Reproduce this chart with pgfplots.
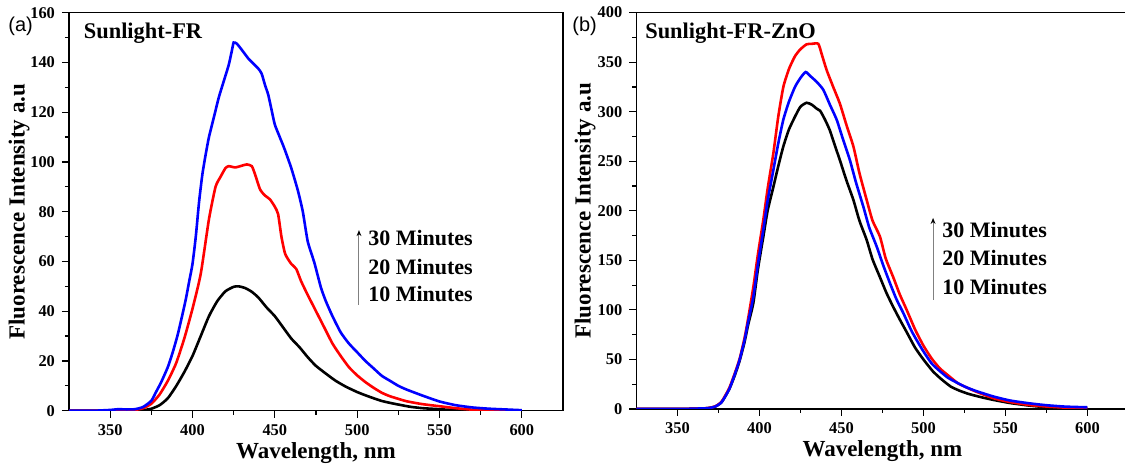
\documentclass[border=0pt]{standalone}
\usepackage{pgfplots}
\pgfplotsset{compat=1.18}
\usepackage{fontspec}
\setmainfont{Liberation Serif}
\newfontfamily\arialfont{Liberation Sans}
\newfontfamily\tickfont[BoldFont=*]{Liberation Serif Bold}
\usetikzlibrary{arrows.meta}

\pgfplotsset{
 myax/.style={
  scale only axis,
  anchor=south west,
  axis line style={line width=0.7pt},
  every tick/.style={black, line width=0.6pt},
  tick align=outside,
  tick pos=left,
  major tick length=3.5pt,
  minor tick length=2pt,
  minor tick num=1,
  xmin=325, xmax=625,
  xtick={350,400,...,600},
  /pgf/number format/assume math mode=true,
  xticklabel={\tickfont\fontsize{8.2}{9}\selectfont\pgfmathprintnumber{\tick}},
  yticklabel={\tickfont\fontsize{8.2}{9}\selectfont\pgfmathprintnumber{\tick}},
  xlabel={Wavelength, nm},
  ylabel={Fluorescence Intensity a.u},
  label style={font=\bfseries\fontsize{11.5}{13}\selectfont},
  xlabel style={at={(axis description cs:0.5,0)}, anchor=center, yshift=-21pt},
  every axis plot/.append style={line width=1.3pt, smooth, tension=0.35},
 },
}
\tikzset{
 ann/.style={anchor=west, inner sep=0pt, font=\bfseries\fontsize{11}{12}\selectfont},
 tit/.style={anchor=west, inner sep=0pt, font=\bfseries\fontsize{11.2}{12}\selectfont},
}

\begin{document}
\begin{tikzpicture}
\useasboundingbox (0,0) rectangle (562.5pt,235pt);

% ---------------- panel (a) ----------------
\begin{axis}[myax, at={(34.5pt,29.65pt)}, width=247pt, height=199pt,
  ymin=0, ymax=160, ytick={0,20,...,160},
  ylabel style={at={(axis description cs:-0.101,0.5)}, anchor=center}]
\addplot[black] coordinates {
(325,0) (350,0) (365,0) (370,0.2) (375,0.8) (380,2.2) (385,5) (390,9.8) (395,15.5)
(400,22) (405,30) (410,38) (415,44) (420,48) (425,49.8) (428,50) (432,49.3) (436,47.8)
(440,45.5) (445,41.5) (450,38) (455,33.5) (460,29) (465,25.5) (470,21.5) (475,18)
(482,14.4) (487,12) (493,9.7) (500,7.5) (505,6.2) (510,5) (515,3.9) (521,3) (532,1.6)
(540,1) (550,0.6) (560,0.2) (575,0) (600,0)};
\addplot[red] coordinates {
(325,0) (360,0) (365,0.3) (370,1) (375,2.8) (380,6.5) (385,12) (390,19) (395,29)
(400,41) (405,55) (410,77) (414,90) (417,94) (420,97.5) (422,98.3) (426,97.8)
(430,98.5) (433,99) (436,98.3) (438,95) (441,89) (444,86.5) (447,85) (450,82)
(452,79) (454,70) (456.3,63) (460,59) (463,57) (466,52) (470,46.5) (475,40)
(480,33.5) (485,27) (490,22) (495,17.5) (500,14.2) (505,11.5) (510,9.2) (515,7.2)
(520,5.8) (530,3.8) (540,2.6) (550,1.8) (560,1) (570,0.4) (580,0.1) (600,0)};
\addplot[blue] coordinates {
(325,0) (340,0) (350,0.3) (355,0.6) (360,0.5) (365,0.6) (370,1.5) (375,4) (378,7.7)
(381,11.5) (385,17.5) (388,23.5) (391,30.5) (394,39) (396,45) (398,52) (400,59)
(402,70) (404,84) (406,95) (408,103) (410,110) (413,118) (416,126) (419,132.5)
(422,139) (424,145) (425,148) (427,147.5) (430,145) (434,141.5) (437,139.5)
(440,137.5) (442,135.5) (444,131) (446,127) (448,121) (450,115) (453,110) (456,105)
(460,97.5) (464,88.5) (467,80) (470,68) (474,59.5) (478,49.5) (481,44) (485,38)
(490,31.5) (495,27) (500,23.5) (505,20) (510,17) (515,14) (520,12) (525,10)
(530,8.5) (540,6) (550,3.7) (560,2.2) (570,1.3) (580,0.8) (590,0.5) (600,0.2)};
\node[tit] at (axis cs:333.8,151.8) {Sunlight-FR};
\draw[gray, line width=0.5pt, -{Stealth[black, length=3pt, width=2.4pt]}]
  (axis cs:501.1,42.5) -- (axis cs:501.1,72.6);
\node[ann] at (axis cs:506.5,69.4) {30 Minutes};
\node[ann] at (axis cs:506.5,57.8) {20 Minutes};
\node[ann] at (axis cs:506.5,46.9) {10 Minutes};
\end{axis}

% ---------------- panel (b) ----------------
\begin{axis}[myax, at={(318.2pt,30.5pt)}, width=246pt, height=198.2pt,
  ymin=0, ymax=400, ytick={0,50,...,400},
  ylabel style={at={(axis description cs:-0.104,0.5)}, anchor=center}]
\addplot[black] coordinates {
(325,0) (350,0) (360,0.3) (365,0.6) (368.5,0.8) (373,2.4) (377,7) (381.6,20) (385,34)
(388,49) (391,68) (393,84) (396.3,107) (399,140) (402.4,174) (405,200) (408.5,224)
(411.5,245) (414.6,265) (418,282) (421.7,295) (425,305) (428.8,309) (432,307)
(435,303) (437,301) (440,292) (443,281) (446,266) (449.1,251) (453,231) (457.3,211)
(461,190) (465.4,170.6) (469,151) (473.5,133) (477.5,117) (481.6,103) (485.7,90)
(490,77) (494.9,62) (500,50) (505.8,38) (511,30) (516.7,22.6) (522,18.5) (527.6,15.2)
(535,12) (542.9,9.1) (553,6) (564.7,3.4) (575,1.8) (586.5,0.7) (600,0.3)};
\addplot[red] coordinates {
(325,0) (350,0) (360,0.3) (365,0.6) (368.5,0.9) (373,2.6) (377,7.5) (381.6,21) (385,36)
(388,51) (391,72) (393,90) (396.3,123) (399,155) (402.4,191) (405,222) (408.5,258)
(411.5,295) (414.6,325) (418,343) (421.7,356) (425,363) (428.8,368) (432,368.5)
(435.9,368.5) (438,358) (441,342) (445,325) (449.1,308) (453,287) (457.3,265)
(461,238) (465.4,211) (469,190) (473.5,174) (477,152) (481.6,133) (485.5,116)
(489.8,100) (495,80) (500,64) (505,51) (510,41) (515,34) (521,26) (526,22) (532,17.6)
(542.9,10.8) (553,7) (564.7,4) (575,2.5) (586.5,1.4) (600,1)};
\addplot[blue] coordinates {
(325,0) (350,0) (360,0.3) (365,0.6) (368.5,0.8) (373,2.4) (377,7) (381.6,20) (385,35)
(388,50) (391,70) (393,87) (396.3,113) (399,145) (402.4,181) (405,210) (408.5,241)
(411.5,268) (414.6,292) (418,310) (421.7,325) (425,334) (428.2,340) (431,336)
(435,330) (439,322) (443,307) (447.1,292) (451,272) (455.2,251) (459,228) (463.4,204)
(467,183) (471.5,164) (475.5,145) (479.6,127) (483.5,111) (487.7,97) (493,78)
(499.3,60) (505,46) (510.2,38) (515,31.5) (521.1,26) (526,22) (532,18.2) (542.9,12.5)
(553,8.5) (564.7,5.7) (575,3.8) (586.5,2.4) (600,1.7)};
\node[tit] at (axis cs:330.2,379.5) {Sunlight-FR-ZnO};
\draw[gray, line width=0.5pt, -{Stealth[black, length=3pt, width=2.4pt]}]
  (axis cs:505.9,110) -- (axis cs:505.9,192.8);
\node[ann] at (axis cs:511.3,180.7) {30 Minutes};
\node[ann] at (axis cs:511.3,152.4) {20 Minutes};
\node[ann] at (axis cs:511.3,123.1) {10 Minutes};
\end{axis}

\node[anchor=west, inner sep=0pt, font=\arialfont\fontsize{10}{12}\selectfont] at (4pt,222pt) {(a)};
\node[anchor=west, inner sep=0pt, font=\arialfont\fontsize{10}{12}\selectfont] at (286pt,222pt) {(b)};
\end{tikzpicture}
\end{document}
